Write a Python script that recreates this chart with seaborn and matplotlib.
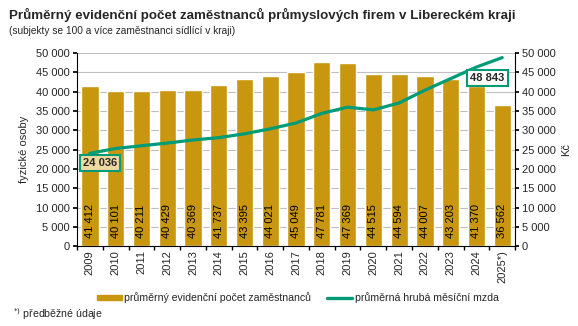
import matplotlib
matplotlib.use("Agg")
import matplotlib.pyplot as plt
import seaborn as sns
import pandas as pd
import numpy as np
from matplotlib.ticker import FuncFormatter, MultipleLocator, FixedLocator
from matplotlib.lines import Line2D
from matplotlib.patches import Patch

years = ["2009", "2010", "2011", "2012", "2013", "2014", "2015", "2016", "2017",
         "2018", "2019", "2020", "2021", "2022", "2023", "2024", "2025*)"]
employees = [41412, 40101, 40211, 40429, 40369, 41737, 43395, 44021, 45049,
             47781, 47369, 44515, 44594, 44007, 43203, 41370, 36562]
wages = [24036, 25300, 26000, 26700, 27500, 28100, 29100, 30400, 31900,
         34400, 36000, 35300, 37100, 40400, 43400, 46400, 48843]

BAR = "#C9960F"
LINE = "#009B77"

sns.set_theme(style="white")
plt.rcParams["font.family"] = ["Liberation Sans", "DejaVu Sans"]

df = pd.DataFrame({"rok": years, "zam": employees, "mzda": wages})

fig = plt.figure(figsize=(5.78, 3.26), dpi=100)
ax = fig.add_axes([0.1332, 0.245, 0.758, 0.592])

sns.barplot(data=df, x="rok", y="zam", color=BAR, width=0.67, ax=ax,
            saturation=1, zorder=2)
ax.set_ylim(0, 50000)
ax.set_xlim(-0.5, len(years) - 0.5)
ax.yaxis.set_major_locator(MultipleLocator(5000))
fmt = FuncFormatter(lambda v, p: f"{int(v):,}".replace(",", " "))
ax.yaxis.set_major_formatter(fmt)
ax.grid(axis="y", color="#BFBFBF", linewidth=0.8, zorder=0)
ax.set_axisbelow(True)
ax.set_xlabel("")
ax.set_ylabel("fyzické osoby", fontsize=8, labelpad=5)
ax.tick_params(axis="y", labelsize=8, length=3, color="black", direction="out", pad=2, left=True)
ax.tick_params(axis="x", labelsize=8, rotation=90, length=0, pad=3)
ax.xaxis.set_minor_locator(FixedLocator(np.arange(-0.5, len(years), 1)))
ax.tick_params(axis="x", which="minor", length=3, color="black", direction="out", bottom=True)
for s in ["top", "right"]:
    ax.spines[s].set_visible(False)
ax.spines["left"].set_color("black")
ax.spines["bottom"].set_color("black")
ax.spines["left"].set_linewidth(0.8)
ax.spines["bottom"].set_linewidth(0.8)

for i, v in enumerate(employees):
    ax.text(i, 2100, f"{v:,}".replace(",", " "), rotation=90, ha="center",
            va="bottom", fontsize=8, color="black", zorder=4)

ax2 = ax.twinx()
sns.lineplot(x=np.arange(len(years)), y=wages, color=LINE, linewidth=2.3,
             ax=ax2, zorder=5)
ax2.set_ylim(0, 50000)
ax2.set_xlim(-0.5, len(years) - 0.5)
ax2.yaxis.set_major_locator(MultipleLocator(5000))
ax2.yaxis.set_major_formatter(fmt)
ax2.set_ylabel("Kč", fontsize=8, labelpad=4)
ax2.tick_params(axis="y", labelsize=8, length=3, color="black", direction="out", pad=2, right=True)
for s in ["top", "left", "bottom"]:
    ax2.spines[s].set_visible(False)
ax2.spines["right"].set_color("black")
ax2.spines["right"].set_linewidth(0.8)
ax2.grid(False)

ax2.text(0.39, wages[0] - 2500, f"{wages[0]:,}".replace(",", " "), ha="center", va="center",
         fontsize=8, fontweight="bold", zorder=6,
         bbox=dict(boxstyle="square,pad=0.3", fc="#EFD9A0", ec=LINE, lw=1.5))
ax2.text(15.42, wages[-1] - 5300, f"{wages[-1]:,}".replace(",", " "), ha="center",
         va="center", fontsize=8, fontweight="bold", zorder=6,
         bbox=dict(boxstyle="square,pad=0.3", fc="white", ec=LINE, lw=1.5))

fig.text(0.015, 0.955, "Průměrný evidenční počet zaměstnanců průmyslových firem v Libereckém kraji",
         fontsize=9.6, fontweight="bold", ha="left", va="center")
fig.text(0.015, 0.905, "(subjekty se 100 a více zaměstnanci sídlící v kraji)",
         fontsize=7.3, ha="left", va="center")

handles = [Patch(facecolor=BAR, edgecolor=BAR),
           Line2D([0], [0], color=LINE, lw=2.4)]
fig.legend(handles, ["průměrný evidenční počet zaměstnanců", "průměrná hrubá měsíční mzda"],
           loc="center", bbox_to_anchor=(0.515, 0.086), ncol=2, frameon=False,
           fontsize=7.6, handlelength=2.4, handleheight=0.4, columnspacing=1.5, handletextpad=0.2)
fig.text(0.022, 0.035, "$^{*)}$ předběžné údaje", fontsize=7.6, ha="left", va="center")

fig.savefig("out.png", dpi=100)
